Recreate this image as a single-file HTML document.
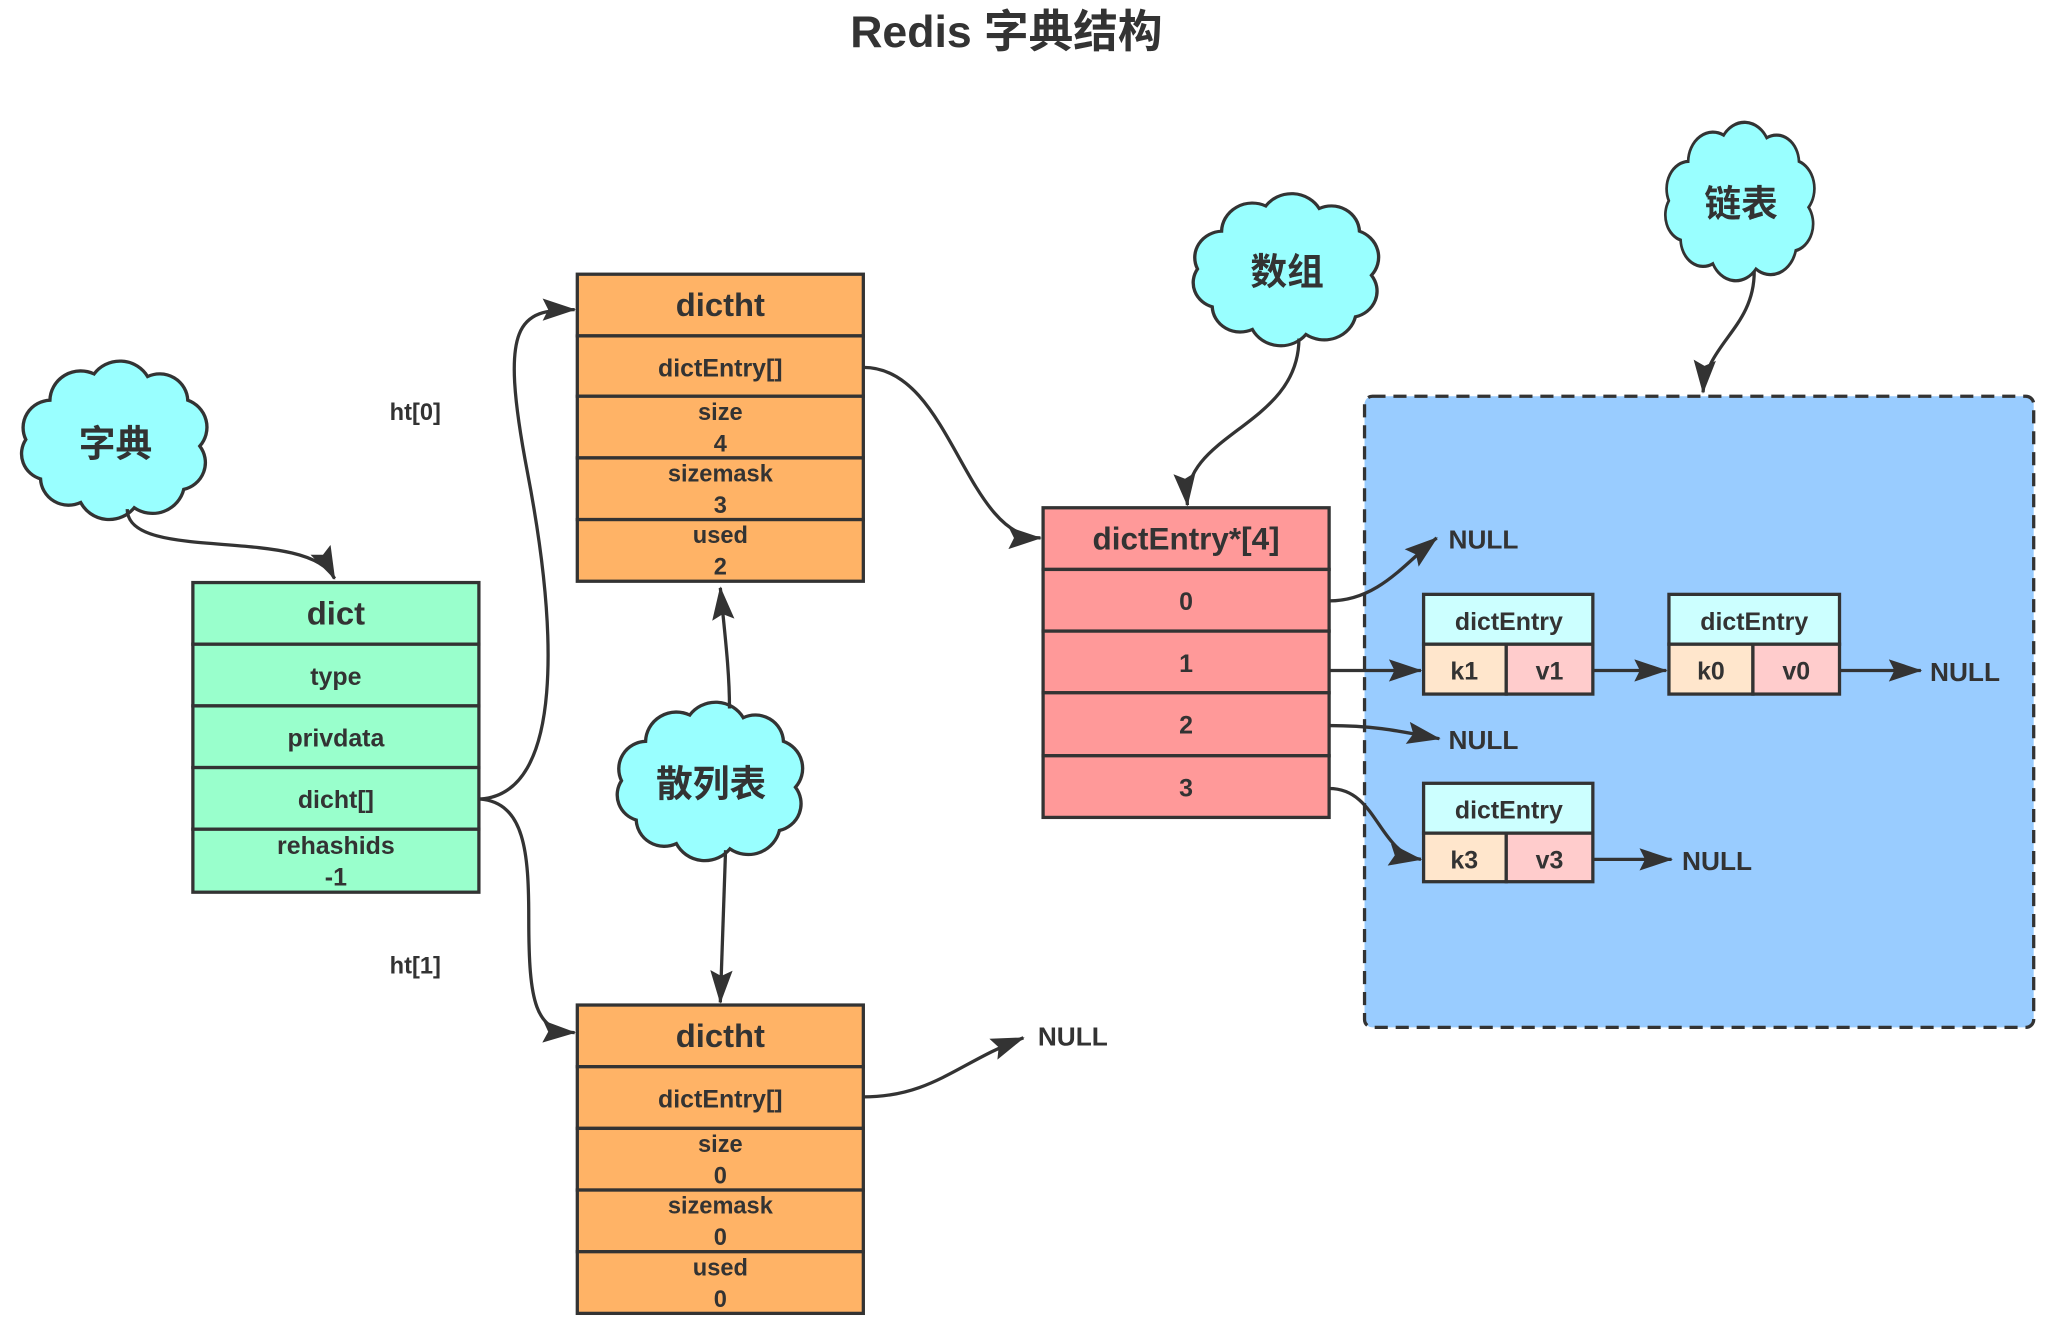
<!DOCTYPE html>
<html><head><meta charset="utf-8"><style>
html,body{margin:0;padding:0;background:#fff;}
svg{display:block;}
text{font-family:"Liberation Sans","Noto Sans CJK SC",sans-serif;font-weight:bold;fill:#333;text-anchor:middle;}
.r{stroke:#333;stroke-width:2.5;}
.l{fill:none;stroke:#333;stroke-width:2.5;}
.n{text-anchor:start;font-size:20px;}
</style></head><body>
<svg width="2056" height="1332" viewBox="0 0 1567 1015.2" preserveAspectRatio="none" xmlns="http://www.w3.org/2000/svg">
<defs>
<marker id="m" viewBox="0 0 24 16" refX="23" refY="8" markerWidth="26" markerHeight="17" orient="auto" markerUnits="userSpaceOnUse">
<path d="M0,0 L24,8 L0,16 L4,8 z" fill="#333"/>
</marker>
<path id="cloud" d="M-48,-30 a23,23 0 0 1 33,-20 a24,24 0 0 1 40,2 a21,21 0 0 1 30,18 a22,22 0 0 1 9,35 a21,21 0 0 1 -12,33 a24,24 0 0 1 -37,14 a24,24 0 0 1 -40,-4 a21,21 0 0 1 -30,-18 a20,20 0 0 1 -11,-30 a21,21 0 0 1 18,-30 z" fill="#99ffff" stroke="#333" stroke-width="2.5"/>
</defs>

<text x="767" y="36" style="font-size:34px">Redis 字典结构</text>

<rect x="1040" y="302" width="510" height="481" rx="6" fill="#99ccff" stroke="#333" stroke-width="2.5" stroke-dasharray="10,6"/>

<use href="#cloud" transform="translate(87,335) scale(1.02,1)"/>
<text x="88" y="348" style="font-size:28px">字典</text>
<use href="#cloud" transform="translate(980,205) scale(1.02,0.96)"/>
<text x="981" y="217" style="font-size:28px">数组</text>
<use href="#cloud" transform="translate(1326,153) scale(0.82,1)"/>
<text x="1327" y="165" style="font-size:28px">链表</text>
<use href="#cloud" transform="translate(541,595) scale(1.02,1)"/>
<text x="542" y="607" style="font-size:28px">散列表</text>

<g class="r" fill="#99ffcc">
<rect x="147" y="444" width="218" height="47"/>
<rect x="147" y="491" width="218" height="47"/>
<rect x="147" y="538" width="218" height="47"/>
<rect x="147" y="585" width="218" height="47"/>
<rect x="147" y="632" width="218" height="48"/>
</g>
<text x="256" y="476" style="font-size:25px">dict</text>
<text x="256" y="522" style="font-size:19px">type</text>
<text x="256" y="569" style="font-size:19px">privdata</text>
<text x="256" y="616" style="font-size:19px">dicht[]</text>
<text x="256" y="651" style="font-size:19px">rehashids</text>
<text x="256" y="675" style="font-size:19px">-1</text>

<g class="r" fill="#ffb366">
<rect x="440" y="209" width="218" height="47"/>
<rect x="440" y="256" width="218" height="46"/>
<rect x="440" y="302" width="218" height="47"/>
<rect x="440" y="349" width="218" height="47"/>
<rect x="440" y="396" width="218" height="47"/>
</g>
<text x="549" y="241" style="font-size:25px">dictht</text>
<text x="549" y="287" style="font-size:19px">dictEntry[]</text>
<text x="549" y="320" style="font-size:18px">size</text>
<text x="549" y="344" style="font-size:18px">4</text>
<text x="549" y="367" style="font-size:18px">sizemask</text>
<text x="549" y="391" style="font-size:18px">3</text>
<text x="549" y="414" style="font-size:18px">used</text>
<text x="549" y="438" style="font-size:18px">2</text>

<g class="r" fill="#ffb366">
<rect x="440" y="766" width="218" height="47"/>
<rect x="440" y="813" width="218" height="47"/>
<rect x="440" y="860" width="218" height="47"/>
<rect x="440" y="907" width="218" height="47"/>
<rect x="440" y="954" width="218" height="47"/>
</g>
<text x="549" y="798" style="font-size:25px">dictht</text>
<text x="549" y="844" style="font-size:19px">dictEntry[]</text>
<text x="549" y="878" style="font-size:18px">size</text>
<text x="549" y="902" style="font-size:18px">0</text>
<text x="549" y="925" style="font-size:18px">sizemask</text>
<text x="549" y="949" style="font-size:18px">0</text>
<text x="549" y="972" style="font-size:18px">used</text>
<text x="549" y="996" style="font-size:18px">0</text>

<g class="r" fill="#ff9999">
<rect x="795" y="387" width="218" height="47"/>
<rect x="795" y="434" width="218" height="47"/>
<rect x="795" y="481" width="218" height="47"/>
<rect x="795" y="528" width="218" height="48"/>
<rect x="795" y="576" width="218" height="47"/>
</g>
<text x="904" y="419" style="font-size:24px">dictEntry*[4]</text>
<text x="904" y="465" style="font-size:19px">0</text>
<text x="904" y="512" style="font-size:19px">1</text>
<text x="904" y="559" style="font-size:19px">2</text>
<text x="904" y="607" style="font-size:19px">3</text>

<g class="r">
<rect x="1085" y="453" width="129" height="38" fill="#ccffff"/>
<rect x="1085" y="491" width="63" height="38" fill="#ffe6cc"/>
<rect x="1148" y="491" width="66" height="38" fill="#ffcccc"/>
<rect x="1272" y="453" width="130" height="38" fill="#ccffff"/>
<rect x="1272" y="491" width="64" height="38" fill="#ffe6cc"/>
<rect x="1336" y="491" width="66" height="38" fill="#ffcccc"/>
<rect x="1085" y="597" width="129" height="38" fill="#ccffff"/>
<rect x="1085" y="635" width="63" height="37" fill="#ffe6cc"/>
<rect x="1148" y="635" width="66" height="37" fill="#ffcccc"/>
</g>
<text x="1150" y="480" style="font-size:19px">dictEntry</text>
<text x="1116" y="518" style="font-size:19px">k1</text>
<text x="1181" y="518" style="font-size:19px">v1</text>
<text x="1337" y="480" style="font-size:19px">dictEntry</text>
<text x="1304" y="518" style="font-size:19px">k0</text>
<text x="1369" y="518" style="font-size:19px">v0</text>
<text x="1150" y="624" style="font-size:19px">dictEntry</text>
<text x="1116" y="662" style="font-size:19px">k3</text>
<text x="1181" y="662" style="font-size:19px">v3</text>

<text class="n" x="1104" y="418">NULL</text>
<text class="n" x="1471" y="519">NULL</text>
<text class="n" x="1104" y="571">NULL</text>
<text class="n" x="1282" y="663">NULL</text>
<text class="n" x="791" y="797">NULL</text>
<text class="n" x="297" y="320" style="font-size:18px">ht[0]</text>
<text class="n" x="297" y="742" style="font-size:18px">ht[1]</text>

<g class="l" marker-end="url(#m)">
<path d="M97,388 C97,430 235,400 255,441"/>
<path d="M366,609 C430,605 425,480 402,360 C380,245 395,236 438,236"/>
<path d="M366,609 C400,612 403,650 403,700 C403,765 408,786 438,787"/>
<path d="M658,280 C725,280 735,410 793,410"/>
<path d="M556,540 C556,510 552,480 549,448"/>
<path d="M553,648 L549,764"/>
<path d="M658,836 C710,836 730,810 780,791"/>
<path d="M990,258 C990,325 900,330 905,385"/>
<path d="M1337,207 C1337,250 1300,262 1298,299"/>
<path d="M1013,458 C1050,458 1070,430 1095,410"/>
<path d="M1013,511 L1083,511"/>
<path d="M1013,553 C1050,553 1070,558 1097,563"/>
<path d="M1013,601 C1050,601 1050,650 1083,655"/>
<path d="M1214,511 L1270,511"/>
<path d="M1402,511 L1464,511"/>
<path d="M1214,655 L1274,655"/>
</g>
</svg>
</body></html>
